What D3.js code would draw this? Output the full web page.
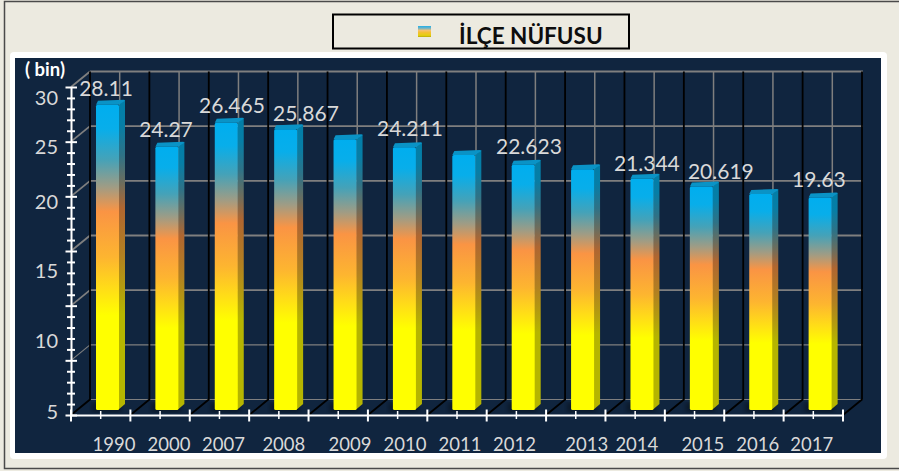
<!DOCTYPE html>
<html>
<head>
<meta charset="utf-8">
<script src="https://cdn.jsdelivr.net/npm/d3@7"></script>
<style>
  html, body { margin: 0; padding: 0; background: #eceae0; }
  svg { display: block; font-family: Lato, "Liberation Sans", sans-serif; }
</style>
</head>
<body>
<div id="chart"></div>
<script>
// values
const years = ["1990", "2000", "2007", "2008", "2009", "2010", "2011", "2012", "2013", "2014", "2015", "2016", "2017"];
const population = [28.11, 24.27, 26.465, 25.867, 24.95, 24.211, 23.5, 22.623, 22.2, 21.344, 20.619, 19.95, 19.63];
const valueLabels = ["28.11", "24.27", "26.465", "25.867", null, "24.211", null, "22.623", null, "21.344", "20.619", null, "19.63"];
const axisLabels = ["30", "25", "20", "15", "10", "5"];
const axisLabelValues = [30, 25, 20, 15, 10, 5];

// hand placed label offsets, the original has them nudged about
const valueDx = [5.3, 5.9, 12.5, 27.1, 0, 12.3, 0, 12.5, 0, 11.7, 26.3, 0, 5.5];
const valueDy = [-11.7, -12.7, -12.7, -11.2, 0, -14.3, 0, -13.7, 0, -10.6, -10.6, 0, -13.4];
const yearDx = [13.3, 8.9, 4, 5, 11.7, 7.3, 2.9, -1.8, 11, 1.7, 8.3, 3.9, -1.5];
const axisLabelDy = [18, 12, 13, 27, 42, 59];

const W = 899, H = 471;
const plot = { left: 71, right: 843, top: 87, bottom: 415 };
const depth = { x: 19, y: -15.5 };
const bar = { inset: 25, w: 23, sideX: 6, sideY: -5, base: 410 };

const svg = d3.select("#chart").append("svg").attr("width", W).attr("height", H);
const defs = svg.append("defs");

const x = d3.scaleBand().domain(years).range([plot.left, plot.right]);
const y = d3.scaleLinear().domain([0, 30]).range([plot.bottom, plot.top]);

function addGradient(id, stops) {
  const g = defs.append("linearGradient").attr("id", id)
    .attr("x1", 0).attr("y1", 0).attr("x2", 0).attr("y2", 1);
  stops.forEach(s => g.append("stop").attr("offset", s[0]).attr("stop-color", s[1]));
}
addGradient("barFront", [[0, "#00aeef"], [0.08, "#08aeea"], [0.18, "#45a2b8"], [0.27, "#a09c84"], [0.35, "#fa9444"], [0.5, "#fdb530"], [0.6, "#ffdc18"], [0.69, "#ffff00"], [1, "#ffff00"]]);
addGradient("barSide", [[0, "#027ea8"], [0.08, "#067ea6"], [0.18, "#2f7286"], [0.27, "#6e6d5c"], [0.35, "#b06630"], [0.5, "#b28021"], [0.6, "#b39a10"], [0.69, "#b5b500"], [1, "#b5b500"]]);
addGradient("swatch", [[0, "#22aee6"], [0.2, "#6fb4c8"], [0.4, "#f5c070"], [0.6, "#f4c030"], [0.85, "#e4d010"], [1, "#b8a808"]]);
defs.append("filter").attr("id", "soft").append("feGaussianBlur").attr("stdDeviation", 2);

// frame
svg.append("rect").attr("x", 4.5).attr("y", 1.5).attr("width", W).attr("height", 467)
  .attr("fill", "#eceae0").attr("stroke", "#4a4a4a").attr("stroke-width", 1.5);
svg.append("rect").attr("x", 10).attr("y", 52).attr("width", 877).attr("height", 407).attr("rx", 4).attr("fill", "#fff");
svg.append("rect").attr("x", 15).attr("y", 58).attr("width", 866).attr("height", 395).attr("fill", "#10253f");

// legend box
svg.append("rect").attr("x", 333).attr("y", 14.5).attr("width", 296).attr("height", 34)
  .attr("fill", "#eceae0").attr("stroke", "#000").attr("stroke-width", 2);
svg.append("rect").attr("x", 418).attr("y", 26).attr("width", 13).attr("height", 11).attr("fill", "url(#swatch)");
svg.append("text").attr("x", 459).attr("y", 44).attr("font-size", 22.5).attr("font-weight", 700)
  .attr("fill", "#0d0d0d").text("İLÇE NÜFUSU");

// back wall and left wall grid
const wall = svg.append("g");
const gridValues = d3.range(0, 31, 5);
const gridWidth = d => d >= 10 ? 1.8 : 1.1;
wall.selectAll("line.h").data(gridValues).join("line").attr("class", "h")
  .attr("x1", plot.left + depth.x).attr("x2", plot.right + depth.x + 1)
  .attr("y1", d => y(d) + depth.y).attr("y2", d => y(d) + depth.y)
  .attr("stroke", "#7f7f7f").attr("stroke-width", gridWidth);
wall.selectAll("line.d").data(gridValues.slice(1)).join("line").attr("class", "d")
  .attr("x1", plot.left).attr("x2", plot.left + depth.x)
  .attr("y1", d => y(d)).attr("y2", d => y(d) + depth.y)
  .attr("stroke", "#7f7f7f").attr("stroke-width", gridWidth);
wall.selectAll("line.c").data(years).join("line").attr("class", "c")
  .attr("x1", d => x(d) + x.bandwidth() / 2 + depth.x).attr("x2", d => x(d) + x.bandwidth() / 2 + depth.x)
  .attr("y1", y(30) + depth.y).attr("y2", y(0) + depth.y)
  .attr("stroke", "#7f7f7f").attr("stroke-width", 1.5);

// black band separators run up the wall and along the floor
const edges = years.map(d => x(d)).concat([plot.right]);
const sep = d3.line();
wall.selectAll("path.sep").data(edges).join("path").attr("class", "sep")
  .attr("fill", "none").attr("stroke", "#000").attr("stroke-width", 1.8)
  .attr("d", d => sep([[d + depth.x, y(30) + depth.y], [d + depth.x, y(0) + depth.y], [d, y(0)]]));

// bars
const bars = svg.append("g").selectAll("g").data(years).join("g");
const frontX = d => x(d) + bar.inset;
const topY = (d, i) => y(population[i]) - 3;

// faint shadow on the floor
bars.append("rect").attr("fill", "#000").attr("opacity", 0.35).attr("filter", "url(#soft)")
  .attr("x", d => frontX(d) - 4).attr("y", bar.base - 7).attr("width", bar.w + 6).attr("height", 9);
bars.append("path").attr("fill", "url(#barSide)")
  .attr("d", (d, i) => {
    const x1 = frontX(d) + bar.w, t = topY(d, i);
    return sep([[x1, t], [x1 + bar.sideX, t + bar.sideY], [x1 + bar.sideX, bar.base - 6], [x1 - 1, bar.base]]) + "Z";
  });
bars.append("path").attr("fill", "#0a93c6")
  .attr("d", (d, i) => {
    const x0 = frontX(d), t = topY(d, i);
    return sep([[x0, t], [x0 + 2, t + bar.sideY + 1], [x0 + bar.w + bar.sideX - 1, t + bar.sideY], [x0 + bar.w + bar.sideX, t + bar.sideY + 1], [x0 + bar.w, t]]) + "Z";
  });
bars.append("rect").attr("fill", "url(#barFront)")
  .attr("x", frontX).attr("width", bar.w)
  .attr("y", topY).attr("height", (d, i) => bar.base - topY(d, i))
  .attr("rx", 1.5);

// y axis, major and minor ticks
const axisY = svg.append("g").attr("transform", `translate(${plot.left},0)`);
axisY.call(d3.axisLeft(y).tickValues(d3.range(0, 31)).tickSize(0).tickFormat(""));
axisY.select(".domain").attr("stroke", "#fff").attr("stroke-width", 2);
axisY.selectAll(".tick line")
  .attr("x1", d => d % 5 === 0 ? -5.5 : -4)
  .attr("x2", d => d % 5 === 0 ? 6 : 4)
  .attr("stroke", "#fff").attr("stroke-width", 2);

// x axis: centre ticks from the axis, band edges added by hand
const axisX = svg.append("g").attr("transform", `translate(0,${plot.bottom})`);
axisX.call(d3.axisBottom(x).tickSize(0).tickFormat(""));
axisX.select(".domain").attr("stroke", "#fff").attr("stroke-width", 2);
axisX.selectAll(".tick line").attr("y1", -4).attr("y2", 4).attr("stroke", "#fff").attr("stroke-width", 1.5);
axisX.selectAll("line.edge").data(edges).join("line").attr("class", "edge")
  .attr("x1", d => d).attr("x2", d => d).attr("y1", -5.5).attr("y2", 6.5)
  .attr("stroke", "#fff").attr("stroke-width", 2);

// text
const labelColor = "#d9d9d9";
svg.selectAll("text.axis").data(axisLabels).join("text").attr("class", "axis")
  .attr("x", 58).attr("y", (d, i) => y(axisLabelValues[i]) + axisLabelDy[i])
  .attr("text-anchor", "end").attr("font-size", 20).attr("fill", labelColor).text(d => d);
svg.selectAll("text.year").data(years).join("text").attr("class", "year")
  .attr("x", (d, i) => x(d) + x.bandwidth() / 2 + yearDx[i]).attr("y", 450.5)
  .attr("text-anchor", "middle").attr("font-size", 18.5).attr("fill", labelColor).text(d => d);
svg.selectAll("text.value").data(valueLabels).join("text").attr("class", "value")
  .filter(d => d !== null)
  .attr("x", function (d) { const i = valueLabels.indexOf(d); return x(years[i]) + x.bandwidth() / 2 + valueDx[i]; })
  .attr("y", function (d) { const i = valueLabels.indexOf(d); return y(population[i]) + valueDy[i]; })
  .attr("text-anchor", "middle").attr("font-size", 21).attr("fill", labelColor).text(d => d);
svg.append("text").attr("x", 25).attr("y", 76).attr("font-size", 18.5).attr("font-weight", 700)
  .attr("fill", "#fff").text("( bin)");
</script>
</body>
</html>
